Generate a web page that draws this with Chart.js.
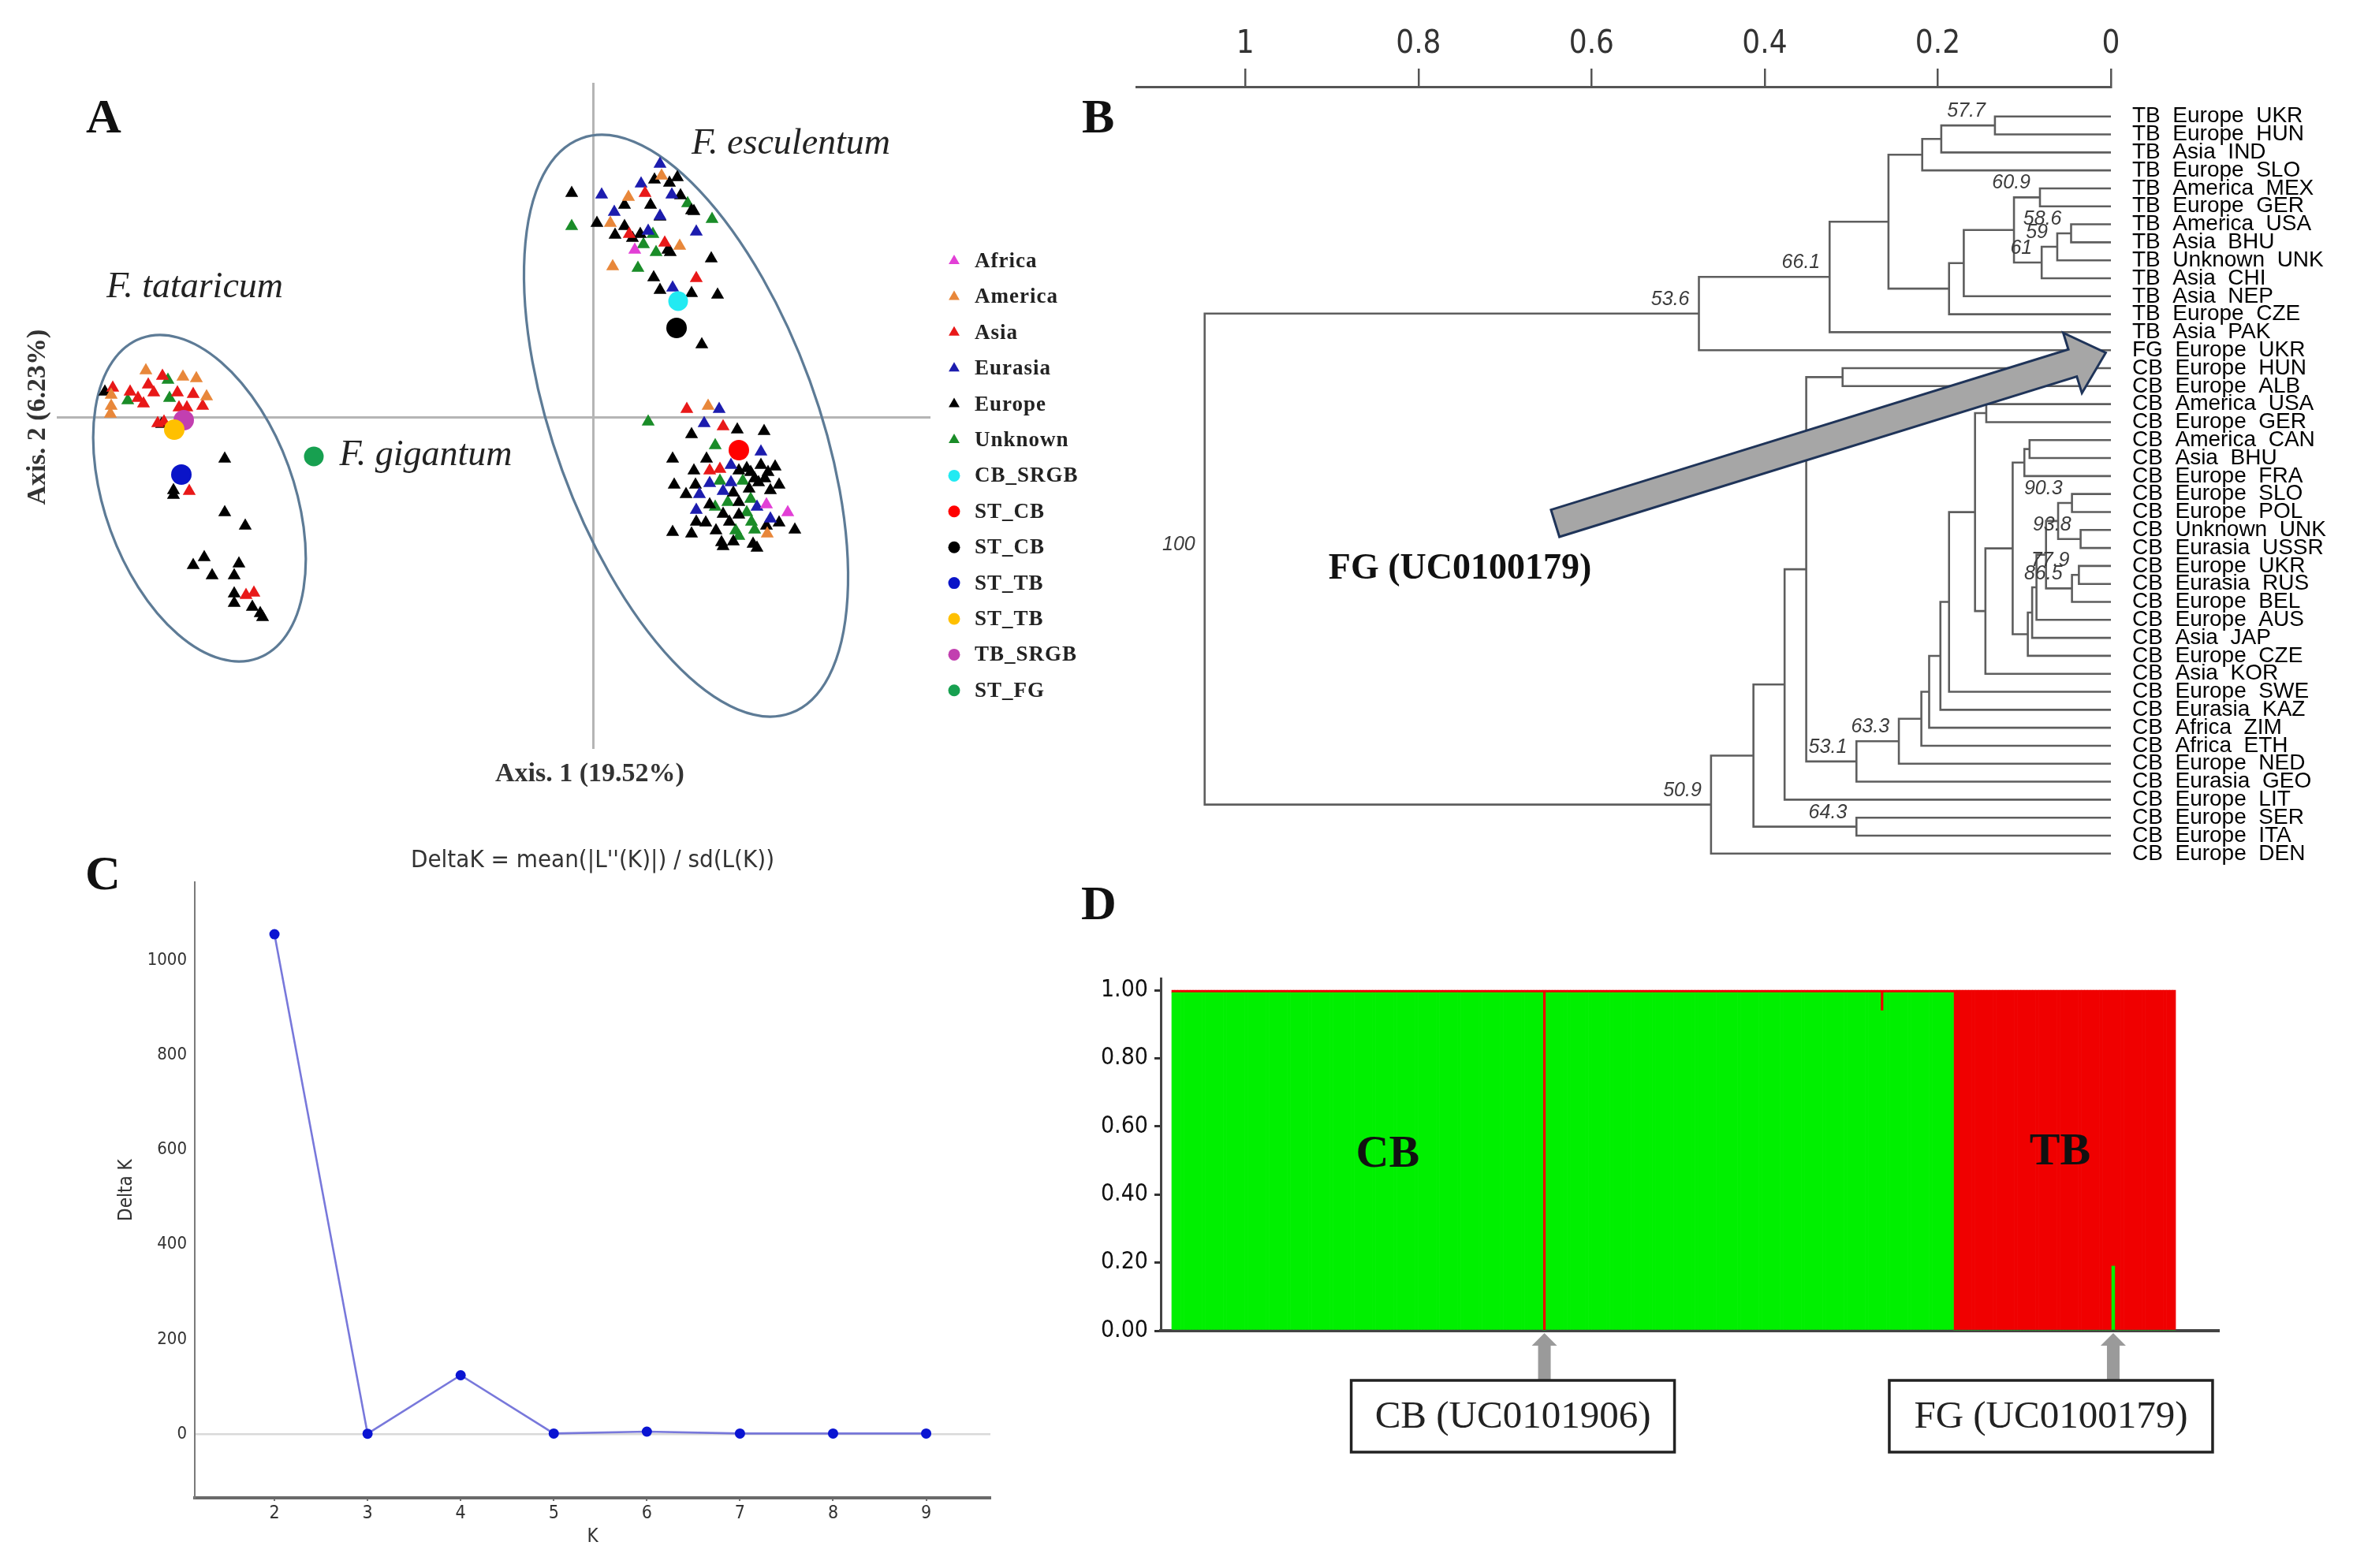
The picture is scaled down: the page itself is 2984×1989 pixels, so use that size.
<!DOCTYPE html>
<html><head><meta charset="utf-8">
<script src="https://cdn.jsdelivr.net/npm/chart.js@4.4.0/dist/chart.umd.min.js"></script>
<style>
html,body{margin:0;padding:0;background:#fff;}
#page{position:relative;width:2984px;height:1989px;overflow:hidden;background:#fff;}
.panel{position:absolute;}
.letter{position:absolute;font-family:'Liberation Serif','Times New Roman',serif;font-weight:bold;font-size:62px;line-height:1;color:#111;}
</style></head><body>
<div id="page">
  <div class="panel" style="left:0;top:0;width:1500px;height:1060px"><canvas id="cA"></canvas></div>
  <div class="panel" style="left:1300px;top:0;width:1684px;height:1130px"><canvas id="cB"></canvas></div>
  <div class="panel" style="left:0;top:1060px;width:1300px;height:929px"><canvas id="cC"></canvas></div>
  <div class="panel" style="left:1300px;top:1100px;width:1684px;height:889px"><canvas id="cD"></canvas></div>
  <div class="letter" style="left:109px;top:116px">A</div>
  <div class="letter" style="left:1372px;top:116px">B</div>
  <div class="letter" style="left:108px;top:1076px">C</div>
  <div class="letter" style="left:1371px;top:1114px">D</div>
</div>
<script>
// ================= DATA =================
// ---- Panel A : PCoA (Axis 1, Axis 2) ----
const pcoaLabels = ['Africa','America','Asia','Eurasia','Europe','Unknown','CB_SRGB','ST_CB','ST_CB','ST_TB','ST_TB','TB_SRGB','ST_FG'];
const africaPts = [[0.053,0.212],[0.220,-0.111],[0.247,-0.121]];
const americaPts = [[-0.567,0.059],[-0.520,0.051],[-0.503,0.049],[-0.490,0.026],[-0.611,0.028],[-0.611,0.014],[-0.612,0.004],
  [0.087,0.306],[0.045,0.279],[0.022,0.246],[0.110,0.217],[0.025,0.191],[0.146,0.014],[0.221,-0.148]];
const asiaPts = [[-0.609,0.037],[-0.587,0.032],[-0.577,0.024],[-0.570,0.017],[-0.564,0.041],[-0.557,0.031],[-0.546,0.052],
  [-0.527,0.031],[-0.507,0.029],[-0.495,0.014],[-0.525,0.012],[-0.515,0.012],[-0.552,-0.008],[-0.544,-0.006],[-0.512,-0.094],
  [-0.430,-0.223],[-0.440,-0.226],[0.066,0.284],[0.091,0.221],[0.131,0.176],[0.046,0.232],[0.119,0.010],[0.165,-0.012],
  [0.148,-0.068],[0.161,-0.066]];
const eurasiaPts = [[0.085,0.321],[0.061,0.296],[0.011,0.282],[0.100,0.282],[0.027,0.260],[0.085,0.255],[0.131,0.235],
  [0.070,0.236],[0.101,0.164],[0.160,0.010],[0.141,-0.008],[0.213,-0.044],[0.175,-0.061],[0.148,-0.084],[0.175,-0.083],
  [0.135,-0.098],[0.165,-0.094],[0.208,-0.114],[0.131,-0.118],[0.225,-0.129]];
const europePts = [[-0.619,0.032],[-0.547,-0.009],[-0.467,-0.053],[-0.532,-0.093],[-0.532,-0.099],[-0.467,-0.121],[-0.441,-0.138],
  [-0.507,-0.188],[-0.493,-0.178],[-0.483,-0.201],[-0.449,-0.186],[-0.455,-0.201],[-0.455,-0.224],[-0.455,-0.236],[-0.432,-0.241],
  [-0.422,-0.249],[-0.419,-0.254],
  [-0.027,0.284],[0.005,0.246],[0.078,0.301],[0.107,0.304],[0.097,0.297],[0.040,0.269],[0.073,0.269],[0.111,0.281],[0.128,0.261],
  [0.085,0.254],[0.040,0.242],[0.028,0.231],[0.050,0.227],[0.060,0.232],[0.095,0.212],[0.150,0.201],[0.077,0.177],[0.085,0.161],
  [0.125,0.157],[0.158,0.155],[0.138,0.092],[0.098,0.209],[0.125,0.262],
  [0.125,-0.022],[0.183,-0.016],[0.217,-0.018],[0.101,-0.053],[0.144,-0.053],[0.128,-0.068],[0.185,-0.068],[0.213,-0.061],
  [0.231,-0.063],[0.103,-0.086],[0.130,-0.086],[0.205,-0.078],[0.218,-0.078],[0.236,-0.086],[0.118,-0.098],[0.178,-0.096],
  [0.198,-0.091],[0.225,-0.093],[0.148,-0.111],[0.185,-0.108],[0.165,-0.123],[0.185,-0.124],[0.131,-0.133],[0.143,-0.134],
  [0.173,-0.133],[0.236,-0.134],[0.220,-0.138],[0.101,-0.146],[0.125,-0.148],[0.156,-0.144],[0.256,-0.143],[0.163,-0.159],
  [0.178,-0.158],[0.203,-0.161],[0.208,-0.166],[0.165,-0.164],[0.200,-0.070],[0.210,-0.083],[0.195,-0.065],[0.222,-0.070]];
const unknownPts = [[-0.539,0.047],[-0.537,0.024],[-0.590,0.021],[-0.027,0.242],[0.120,0.271],[0.151,0.251],[0.076,0.232],
  [0.064,0.219],[0.080,0.209],[0.057,0.189],[0.070,-0.006],[0.155,-0.036],[0.161,-0.081],[0.190,-0.081],[0.155,-0.114],
  [0.171,-0.108],[0.200,-0.104],[0.195,-0.121],[0.201,-0.133],[0.181,-0.144],[0.205,-0.143],[0.185,-0.151]];
const cbSrgbPts = [[0.108,0.147]];
const stCbRedPts = [[0.185,-0.042]];
const stCbBlackPts = [[0.106,0.113]];
const stTbBluePts = [[-0.522,-0.073]];
const stTbYellowPts = [[-0.531,-0.016]];
const tbSrgbPts = [[-0.519,-0.004]];
const stFgPts = [[-0.354,-0.050]];
const pcoaAxisTitles = ['Axis. 1 (19.52%)','Axis. 2 (6.23%)'];
const speciesNames = ['F. tataricum','F. esculentum','F. gigantum'];
const speciesAnchors = [[-0.505,0.164],[0.251,0.346],[-0.212,-0.049]];
// ellipses: [centerX, centerY, semiMajor, semiMinor, tiltDeg]
const clusterEllipses = [[-0.499,-0.103,0.216,0.120,-20],[0.118,-0.011,0.388,0.167,-20]];

// ---- Panel B : UPGMA dendrogram ----
const leafLabels = ['TB  Europe  UKR','TB  Europe  HUN','TB  Asia  IND','TB  Europe  SLO','TB  America  MEX','TB  Europe  GER',
  'TB  America  USA','TB  Asia  BHU','TB  Unknown  UNK','TB  Asia  CHI','TB  Asia  NEP','TB  Europe  CZE','TB  Asia  PAK',
  'FG  Europe  UKR','CB  Europe  HUN','CB  Europe  ALB','CB  America  USA','CB  Europe  GER','CB  America  CAN','CB  Asia  BHU',
  'CB  Europe  FRA','CB  Europe  SLO','CB  Europe  POL','CB  Unknown  UNK','CB  Eurasia  USSR','CB  Europe  UKR','CB  Eurasia  RUS',
  'CB  Europe  BEL','CB  Europe  AUS','CB  Asia  JAP','CB  Europe  CZE','CB  Asia  KOR','CB  Europe  SWE','CB  Eurasia  KAZ',
  'CB  Africa  ZIM','CB  Africa  ETH','CB  Europe  NED','CB  Eurasia  GEO','CB  Europe  LIT','CB  Europe  SER','CB  Europe  ITA',
  'CB  Europe  DEN'];
// merges: [childA, childB, distance]; L# = leaf, N# = earlier merge
const merges = [
  ['L0','L1',0.134],['N0','L2',0.196],['N1','L3',0.218],['L4','L5',0.082],['L6','L7',0.046],['N4','L8',0.062],
  ['N5','L9',0.080],['N3','N6',0.112],['N7','L10',0.170],['N8','L11',0.187],['N2','N9',0.257],['N10','L12',0.325],
  ['N11','L13',0.476],
  ['L14','L15',0.310],['L16','L17',0.144],['L18','L19',0.094],['N15','L20',0.100],['L21','L22',0.045],['L23','L24',0.035],
  ['N17','N18',0.061],['L25','L26',0.037],['N20','L27',0.045],['N19','N21',0.075],['N22','L28',0.086],['N23','L29',0.091],
  ['N24','L30',0.096],['N16','N25',0.1135],['N26','L31',0.145],['N14','N27',0.157],['N28','L32',0.187],['N29','L33',0.197],
  ['N30','L34',0.210],['N31','L35',0.219],['N32','L36',0.245],['N33','L37',0.294],['N13','N34',0.352],['N35','L38',0.377],
  ['L39','L40',0.294],['N36','N37',0.413],['N38','L41',0.462],['N12','N39',1.047]];
const bootNodes  = [0,3,4,5,6,11,12,40,17,18,20,21,33,34,37,39];
const bootValues = ['57.7','60.9','58.6','59','61','66.1','53.6','100','90.3','93.8','77.9','86.5','63.3','53.1','64.3','50.9'];
const distTicks = [1,0.8,0.6,0.4,0.2,0];
const calloutB = 'FG (UC0100179)';

// ---- Panel C : Evanno delta K ----
const kValues = [2,3,4,5,6,7,8,9];
const deltaK  = [1055,0.5,124,1,5,1,1,1];
const deltaKTicks = [0,200,400,600,800,1000];
const titleC = "DeltaK = mean(|L''(K)|) / sd(L(K))";

// ---- Panel D : STRUCTURE K=2 membership (run-length by individual) ----
const runLengths = [122,1,110,1,23,52,1,20];
const runCB = [0.993,0,0.993,0.94,0.993,0,0.19,0];
const runTB = [0.007,1,0.007,0.06,0.007,1,0.81,1];
const qTicks = [0,0.2,0.4,0.6,0.8,1];
const clusterNames = ['CB','TB'];
const clusterAnchors = [[71,0.516],[292,0.523]];
const markedRuns = [1,6];
const markedLabels = ['CB (UC0101906)','FG (UC0100179)'];

// ================= RENDER =================
Chart.defaults.animation = false;
Chart.defaults.devicePixelRatio = 1;
const SERIF = "'Liberation Serif','Times New Roman',serif";
const SANS = "'Liberation Sans',Arial,sans-serif";
const NARROW = "'Liberation Sans Narrow','Arial Narrow','DejaVu Sans Condensed','Liberation Sans',sans-serif";
const baseOpts = {responsive:true, maintainAspectRatio:false, events:[], plugins:{legend:{display:false}, tooltip:{enabled:false}}};
const toXY = a => a.map(p=>({x:p[0], y:p[1]}));

// ---------- Panel A ----------
const groupPts = [africaPts,americaPts,asiaPts,eurasiaPts,europePts,unknownPts,cbSrgbPts,stCbRedPts,stCbBlackPts,stTbBluePts,stTbYellowPts,tbSrgbPts,stFgPts];
const groupColors = ['#e23fd6','#e8873a','#e81818','#1c1cae','#000000','#1a8c28','#22eaf2','#ff0000','#000000','#0a14c8','#ffc000','#c23fb0','#17a050'];
const groupStyles = ['triangle','triangle','triangle','triangle','triangle','triangle','circle','circle','circle','circle','circle','circle','circle'];
const groupRadius = [9.5,9.5,9.5,9.5,9.5,9.5,12.5,13,13,13,13,13,12.5];
const dsA = groupPts.map((pts,i)=>({label:pcoaLabels[i], data:toXY(pts), pointStyle:groupStyles[i], pointRadius:groupRadius[i],
  backgroundColor:groupColors[i], borderColor:groupColors[i], borderWidth:0, order: groupStyles[i]==='circle'?0:1}));

function drawMarker(ctx, style, x, y, r, color){
  ctx.save(); ctx.fillStyle=color; ctx.beginPath();
  if(style==='triangle'){
    for(let k=0;k<3;k++){const a=k*2*Math.PI/3; const px=x+Math.sin(a)*r, py=y-Math.cos(a)*r; k?ctx.lineTo(px,py):ctx.moveTo(px,py);}
    ctx.closePath();
  } else { ctx.arc(x,y,r,0,2*Math.PI); }
  ctx.fill(); ctx.restore();
}
const decorA = {
  id:'decorA',
  beforeDatasetsDraw(chart){
    const {ctx, scales:{x,y}} = chart; const ux = x.getPixelForValue(1)-x.getPixelForValue(0); const uy = y.getPixelForValue(0)-y.getPixelForValue(1);
    ctx.save(); ctx.strokeStyle='#5d7b96'; ctx.lineWidth=3.2;
    clusterEllipses.forEach(e=>{ ctx.beginPath(); ctx.ellipse(x.getPixelForValue(e[0]), y.getPixelForValue(e[1]), e[3]*ux, e[2]*uy, e[4]*Math.PI/180, 0, 2*Math.PI); ctx.stroke(); });
    ctx.restore();
  },
  afterDraw(chart){
    const {ctx, chartArea, scales:{x,y}} = chart;
    ctx.save();
    ctx.fillStyle='#222'; ctx.font=`italic 46px ${SERIF}`; ctx.textAlign='center'; ctx.textBaseline='middle';
    speciesNames.forEach((s,i)=>ctx.fillText(s, x.getPixelForValue(speciesAnchors[i][0]), y.getPixelForValue(speciesAnchors[i][1])));
    ctx.fillStyle='#333'; ctx.font=`bold 34px ${SERIF}`;
    ctx.fillText(pcoaAxisTitles[0], x.getPixelForValue(0)-4, chartArea.bottom+32);
    ctx.save(); ctx.translate(48, y.getPixelForValue(0)); ctx.rotate(-Math.PI/2); ctx.fillText(pcoaAxisTitles[1],0,0); ctx.restore();
    ctx.font=`bold 27px ${SERIF}`; ctx.textAlign='left'; ctx.fillStyle='#222';
    try{ ctx.letterSpacing='1px'; }catch(e){}
    chart.data.datasets.forEach((ds,i)=>{
      const ly = 331 + i*45.4;
      drawMarker(ctx, ds.pointStyle, chartArea.right+30, ly, ds.pointStyle==='triangle'?8:7.5, ds.backgroundColor);
      ctx.fillText(ds.label, chartArea.right+56, ly+1);
    });
    ctx.restore();
  }
};
new Chart(document.getElementById('cA'), {type:'scatter', data:{datasets:dsA}, plugins:[decorA],
  options:{...baseOpts, layout:{padding:{left:72, top:105, right:320, bottom:110}},
    scales:{
      x:{type:'linear', min:-0.68, max:0.428, afterBuildTicks:s=>{s.ticks=[{value:0}];}, ticks:{display:false},
         grid:{color:'#b5b5b5', lineWidth:3, drawTicks:false}, border:{display:false}, afterFit:s=>{s.height=0;}},
      y:{type:'linear', min:-0.421, max:0.424, afterBuildTicks:s=>{s.ticks=[{value:0}];}, ticks:{display:false},
         grid:{color:'#b5b5b5', lineWidth:3, drawTicks:false}, border:{display:false}, afterFit:s=>{s.width=0;}}
    }}});

// ---------- Panel B ----------
const nodes = [];
function refPos(r){ const i=+r.slice(1); return r[0]==='L' ? {h:0, y:i} : {h:nodes[i].h, y:nodes[i].y}; }
merges.forEach(([a,b,h])=>{ const A=refPos(a), B=refPos(b); nodes.push({A,B,h,y:(A.y+B.y)/2}); });
const dsB = nodes.map(n=>({data:[{x:n.A.h,y:n.A.y},{x:n.h,y:n.A.y},{x:n.h,y:n.B.y},{x:n.B.h,y:n.B.y}], showLine:true,
  borderColor:'#5e5e5e', borderWidth:2.6, pointRadius:0, borderCapStyle:'butt', borderJoinStyle:'miter', tension:0, fill:false}));
const decorB = {
  id:'decorB',
  afterDatasetsDraw(chart){
    const {ctx, scales:{x,y}} = chart;
    ctx.save();
    ctx.fillStyle='#3c3c3c'; ctx.font=`italic 25px ${SANS}`; ctx.textAlign='right'; ctx.textBaseline='middle';
    bootNodes.forEach((ni,k)=>{ const n=nodes[ni]; ctx.fillText(bootValues[k], x.getPixelForValue(n.h)-12, y.getPixelForValue(n.y)-18); });
    const tip = [x.getPixelForValue(0.006), y.getPixelForValue(13.14)];
    const tail = [x.getPixelForValue(0.642), y.getPixelForValue(22.63)];
    const dx=tip[0]-tail[0], dy=tip[1]-tail[1], L=Math.hypot(dx,dy), ux=dx/L, uy=dy/L, nx=-uy, ny=ux;
    const sw=18, hw=40, hl=44; const bx=tip[0]-ux*hl, by=tip[1]-uy*hl;
    ctx.beginPath();
    ctx.moveTo(tail[0]+nx*sw, tail[1]+ny*sw); ctx.lineTo(bx+nx*sw, by+ny*sw); ctx.lineTo(bx+nx*hw, by+ny*hw);
    ctx.lineTo(tip[0], tip[1]); ctx.lineTo(bx-nx*hw, by-ny*hw); ctx.lineTo(bx-nx*sw, by-ny*sw); ctx.lineTo(tail[0]-nx*sw, tail[1]-ny*sw);
    ctx.closePath(); ctx.fillStyle='#a6a6a6'; ctx.fill(); ctx.strokeStyle='#1f3459'; ctx.lineWidth=3; ctx.lineJoin='miter'; ctx.stroke();
    ctx.fillStyle='#111'; ctx.font=`bold 46px ${SERIF}`; ctx.textAlign='center';
    ctx.fillText(calloutB, x.getPixelForValue(0.752), y.getPixelForValue(25.2));
    ctx.restore();
  }
};
new Chart(document.getElementById('cB'), {type:'scatter', data:{datasets:dsB}, plugins:[decorB],
  options:{...baseOpts, layout:{padding:{left:141, top:0, right:0, bottom:28.5}},
    scales:{
      x:{type:'linear', position:'top', reverse:true, min:0, max:1.126, afterBuildTicks:s=>{s.ticks=distTicks.map(v=>({value:v}));},
         ticks:{callback:v=>String(v), font:{family:NARROW, size:40}, color:'#333', padding:6, maxRotation:0, autoSkip:false},
         grid:{drawOnChartArea:false, drawTicks:true, tickLength:23, color:'#555', lineWidth:2.5},
         border:{display:true, color:'#555', width:3}, afterFit:s=>{s.height=110;}},
      y:{type:'linear', position:'right', reverse:true, min:-1.654, max:41.5, afterBuildTicks:s=>{s.ticks=leafLabels.map((_,i)=>({value:i}));},
         ticks:{callback:v=>leafLabels[v], font:{family:SANS, size:28}, color:'#000', padding:19, autoSkip:false},
         grid:{display:false}, border:{display:false}, afterFit:s=>{s.width=307;}}
    }}});

// ---------- Panel C ----------
new Chart(document.getElementById('cC'), {type:'scatter',
  data:{datasets:[{data:kValues.map((k,i)=>({x:k,y:deltaK[i]})), showLine:true, borderColor:'rgba(105,105,215,0.9)', borderWidth:2.6,
    pointRadius:6.5, pointBackgroundColor:'#0a14d2', pointBorderColor:'#0a14d2', pointBorderWidth:0, tension:0}]},
  options:{...baseOpts, layout:{padding:{left:0, top:0, right:44, bottom:0}},
    plugins:{legend:{display:false}, tooltip:{enabled:false},
      title:{display:true, text:titleC, fullSize:false, font:{family:NARROW, size:31, weight:'normal'}, color:'#333', padding:{top:13, bottom:9}}},
    scales:{
      x:{type:'linear', min:1.144, max:9.69, afterBuildTicks:s=>{s.ticks=kValues.map(v=>({value:v}));},
         ticks:{callback:v=>String(v), font:{family:NARROW, size:23}, color:'#333', padding:2, autoSkip:false, maxRotation:0},
         grid:{drawOnChartArea:false, drawTicks:true, tickLength:4, color:'#777', lineWidth:2},
         border:{display:true, color:'#6a6a6a', width:4},
         title:{display:true, text:'K', font:{family:NARROW, size:24}, color:'#333', padding:{top:0, bottom:25}},
         afterFit:s=>{s.height=89;}},
      y:{type:'linear', min:-134.8, max:1164.7, afterBuildTicks:s=>{s.ticks=deltaKTicks.map(v=>({value:v}));},
         ticks:{callback:v=>String(v), font:{family:NARROW, size:22}, color:'#333', padding:10, autoSkip:false},
         grid:{color:c=>(c.tick && c.tick.value===0)?'#d9d9d9':'rgba(0,0,0,0)', lineWidth:2.5, drawTicks:false},
         border:{display:true, color:'#7a7a7a', width:2},
         title:{display:true, text:'Delta K', font:{family:NARROW, size:24}, color:'#333', padding:{top:146, bottom:0}},
         afterFit:s=>{s.width=247;}}
    }}});

// ---------- Panel D ----------
const cbQ=[], tbQ=[], runStart=[];
runLengths.forEach((n,r)=>{ runStart.push(cbQ.length); for(let i=0;i<n;i++){ cbQ.push(runCB[r]); tbQ.push(runTB[r]); } });
const decorD = {
  id:'decorD',
  afterDraw(chart){
    const {ctx, chartArea, scales:{x,y}} = chart;
    ctx.save();
    ctx.fillStyle='#111'; ctx.font=`bold 58px ${SERIF}`; ctx.textAlign='center'; ctx.textBaseline='middle';
    clusterNames.forEach((s,i)=>ctx.fillText(s, x.getPixelForValue(clusterAnchors[i][0]), y.getPixelForValue(clusterAnchors[i][1])));
    const boxOff = [-245,-284];
    markedRuns.forEach((r,i)=>{
      const ax = x.getPixelForValue(runStart[r]+0.5); const top = chartArea.bottom+3, boxTop = chartArea.bottom+63;
      ctx.fillStyle='#9a9a9a';
      ctx.beginPath(); ctx.moveTo(ax, top); ctx.lineTo(ax+16, top+16); ctx.lineTo(ax+8, top+16); ctx.lineTo(ax+8, boxTop);
      ctx.lineTo(ax-8, boxTop); ctx.lineTo(ax-8, top+16); ctx.lineTo(ax-16, top+16); ctx.closePath(); ctx.fill();
      const bx = ax+boxOff[i], bw=410, bh=91;
      ctx.fillStyle='#fff'; ctx.fillRect(bx,boxTop,bw,bh);
      ctx.strokeStyle='#222'; ctx.lineWidth=3.5; ctx.strokeRect(bx,boxTop,bw,bh);
      ctx.fillStyle='#222'; ctx.font=`49px ${SERIF}`; ctx.fillText(markedLabels[i], bx+bw/2, boxTop+bh/2+2);
    });
    ctx.restore();
  }
};
new Chart(document.getElementById('cD'), {type:'bar',
  data:{datasets:[
    {label:clusterNames[0], data:cbQ.map((v,i)=>({x:i+0.5,y:v})), backgroundColor:'#00f000', borderWidth:0, barPercentage:1, categoryPercentage:1},
    {label:clusterNames[1], data:tbQ.map((v,i)=>({x:i+0.5,y:v})), backgroundColor:'#f00000', borderWidth:0, barPercentage:1, categoryPercentage:1}]},
  plugins:[decorD],
  options:{...baseOpts, layout:{padding:{left:0, top:141, right:170, bottom:0}},
    scales:{
      x:{type:'linear', stacked:true, offset:false, min:-3.63, max:344.25, ticks:{display:false}, grid:{display:false, drawTicks:false, offset:false},
         border:{display:true, color:'#444', width:4}, afterFit:s=>{s.height=301;}},
      y:{type:'linear', stacked:true, min:0, max:1.035, afterBuildTicks:s=>{s.ticks=qTicks.map(v=>({value:v}));},
         ticks:{callback:v=>v.toFixed(2), font:{family:NARROW, size:30}, color:'#111', padding:8, autoSkip:false},
         grid:{drawOnChartArea:false, drawTicks:true, tickLength:8, color:'#333', lineWidth:3},
         border:{display:true, color:'#444', width:3}, afterFit:s=>{s.width=172;}}
    }}});
</script>
</body></html>
